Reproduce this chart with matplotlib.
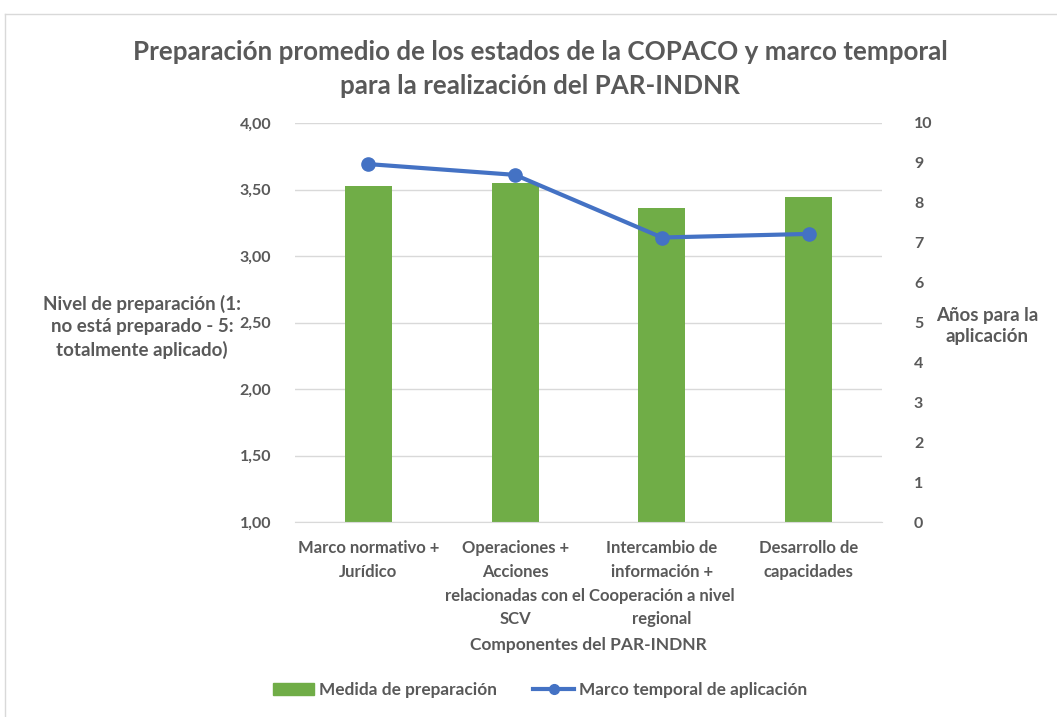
import matplotlib
matplotlib.use("Agg")
import matplotlib.pyplot as plt
from matplotlib.lines import Line2D
from matplotlib.patches import Patch
from matplotlib.ticker import FuncFormatter, MultipleLocator

categories = ["Marco normativo +\nJurídico",
              "Operaciones +\nAcciones\nrelacionadas con el\nSCV",
              "Intercambio de\ninformación +\nCooperación a nivel\nregional",
              "Desarrollo de\ncapacidades"]
preparacion = [3.53, 3.55, 3.36, 3.44]
marco_temporal = [8.97, 8.70, 7.13, 7.22]

GREEN = "#70AD47"
BLUE = "#4472C4"
GRAY = "#595959"
GRID = "#D9D9D9"

plt.rcParams['font.family'] = ['Lato', 'DejaVu Sans']
plt.rcParams['font.weight'] = 'bold'
plt.rcParams['axes.labelweight'] = 'bold'

W, H = 1057, 717
fig = plt.figure(figsize=(W / 100, H / 100), dpi=100)

# chart frame
fig.add_artist(Line2D([5 / W, 5 / W], [0, 1 - 14 / H], color="#D9D9D9", lw=1))
fig.add_artist(Line2D([5 / W, 1], [1 - 14 / H, 1 - 14 / H], color="#D9D9D9", lw=1))

left, right, top, bottom = 295, 882, 123, 522
ax = fig.add_axes([left / W, 1 - bottom / H, (right - left) / W, (bottom - top) / H])
ax2 = ax.twinx()

x = list(range(len(categories)))
ax.bar(x, preparacion, width=0.32, color=GREEN, zorder=2)
ax.set_ylim(1, 4)
ax.set_xlim(-0.5, len(categories) - 0.5)
ax.yaxis.set_major_locator(MultipleLocator(0.5))
ax.yaxis.set_major_formatter(FuncFormatter(lambda v, p: f"{v:.2f}".replace(".", ",")))
ax.grid(axis="y", color=GRID, lw=1, zorder=0)
ax.set_axisbelow(True)

ax2.plot(x, marco_temporal, color=BLUE, lw=3, marker="o", ms=9.5, zorder=3)
ax2.set_ylim(0, 10)
ax2.yaxis.set_major_locator(MultipleLocator(1))

for a in (ax, ax2):
    for s in a.spines.values():
        s.set_visible(False)
    a.tick_params(length=0, colors=GRAY, labelsize=11.5)
ax.spines["bottom"].set_visible(True)
ax.spines["bottom"].set_color(GRID)
ax.tick_params(axis="y", pad=17)
ax2.tick_params(axis="y", pad=23)
ax.set_xticks(x)
ax.set_xticklabels(categories, fontsize=12, color=GRAY, linespacing=1.6, va="top")
ax.tick_params(axis="x", pad=13)

ax.set_xlabel("Componentes del PAR-INDNR", fontsize=12.5, color=GRAY, labelpad=7)

fig.text(142 / W, 1 - 327 / H, "Nivel de preparación (1:\nno está preparado - 5:\ntotalmente aplicado)",
         ha="center", va="center", fontsize=13.5, color=GRAY, linespacing=1.35)
fig.text(987 / W, 1 - 326 / H, "Años para la\naplicación",
         ha="center", va="center", fontsize=13.5, color=GRAY, linespacing=1.35)

fig.text(540 / W, 1 - 69 / H, "Preparación promedio de los estados de la COPACO y marco temporal\npara la realización del PAR-INDNR",
         ha="center", va="center", fontsize=18.7, color=GRAY, linespacing=1.55)

handles = [Patch(color=GREEN), Line2D([], [], color=BLUE, lw=3, marker="o", ms=7)]
fig.legend(handles, ["Medida de preparación", "Marco temporal de aplicación"],
           loc="center", bbox_to_anchor=(540 / W, 1 - 690 / H), ncol=2, frameon=False,
           prop={"size": 12.4, "weight": "bold"}, labelcolor=GRAY, handlelength=2.4,
           handletextpad=0.25, columnspacing=2.1, handleheight=0.7)

fig.savefig("out.png", dpi=100)
